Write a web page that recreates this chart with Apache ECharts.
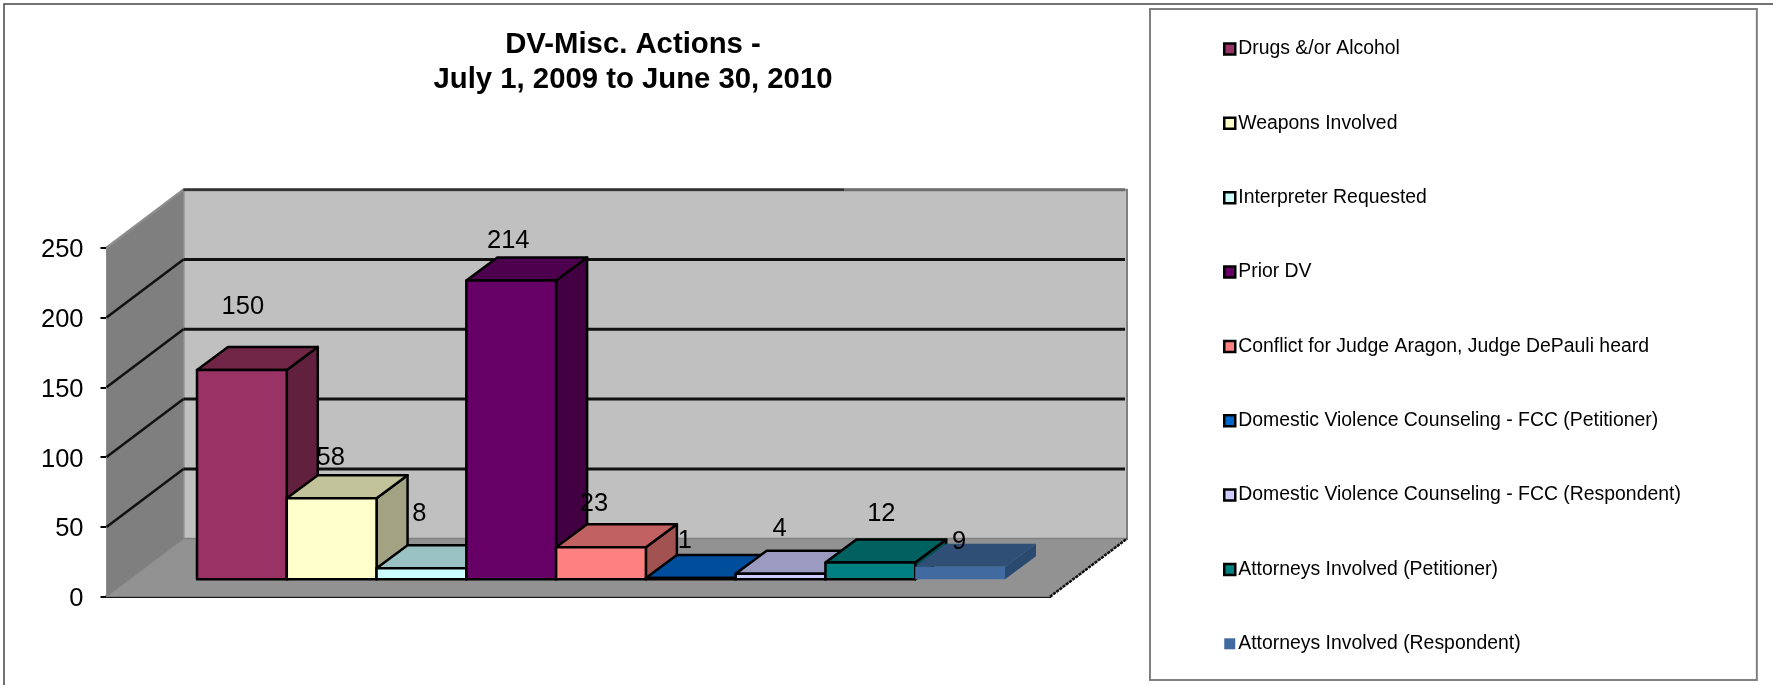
<!DOCTYPE html>
<html>
<head>
<meta charset="utf-8">
<title>DV-Misc. Actions</title>
<script src="https://cdn.jsdelivr.net/npm/echarts@6/dist/echarts.min.js"></script>
<style>
    html, body { margin: 0; padding: 0; background: #fff; }
    #chart { width: 1773px; height: 685px; }
</style>
</head>
<body>
<div id="chart"></div>
<script>
    // chart data
    var categories = [
        'Drugs &/or Alcohol',
        'Weapons Involved',
        'Interpreter Requested',
        'Prior DV',
        'Conflict for Judge Aragon, Judge DePauli heard',
        'Domestic Violence Counseling - FCC (Petitioner)',
        'Domestic Violence Counseling - FCC (Respondent)',
        'Attorneys Involved (Petitioner)',
        'Attorneys Involved (Respondent)'
    ];
    var values = [150, 58, 8, 214, 23, 1, 4, 12, 9];
    var yTicks = [0, 50, 100, 150, 200, 250];

    // face colours of each bar
    var frontColors = ['#993366', '#FFFFCC', '#CCFFFF', '#660066', '#FF8080', '#0066CC', '#CCCCFF', '#008080', '#416BA0'];
    var topColors = ['#722647', '#C2C29B', '#9BC2C2', '#4D004D', '#C26161', '#004D9B', '#9B9BC2', '#006161', '#2F4F76'];
    var sideColors = ['#62203F', '#A3A383', '#83A3A3', '#420042', '#A35252', '#004285', '#8383A3', '#005252', '#2A4A70'];

    // label nudge from the top of the front face, the picture does not centre them
    var labelShiftX = [1, -1, -2, -3, -7, -6, -1, 11, -1];
    var labelShiftY = [-63, -40, -54, -40, -43, -37, -45, -49, -25];

    var FONT = '"Liberation Sans", Arial, sans-serif';
    var WALL_DX = 77, WALL_DY = -58;   // depth of the box
    var BAR_DX = 31, BAR_DY = -23;     // depth of one bar

    function renderWalls(params, api) {
        var tick = api.value(0);
        var a = api.coord([0, tick]);
        var b = api.coord([1, tick]);
        var ax = a[0] + WALL_DX, ay = a[1] + WALL_DY;
        var bx = b[0] + WALL_DX;
        var children = [];
        if (params.dataIndex === 0) {
            var t = api.coord([0, yTicks[yTicks.length - 1]]);
            // back wall, side wall and floor
            children.push({
                type: 'rect',
                shape: {x: ax, y: t[1] + WALL_DY, width: bx - ax, height: ay - t[1] - WALL_DY},
                style: {fill: '#C0C0C0', stroke: '#808080', lineWidth: 2}
            });
            children.push({
                type: 'polygon',
                shape: {points: [[a[0], a[1]], [ax, ay], [ax, t[1] + WALL_DY], [t[0], t[1]]]},
                style: {fill: '#7F7F7F', stroke: '#8C8C8C', lineWidth: 1}
            });
            children.push({
                type: 'polygon',
                shape: {points: [[a[0], a[1]], [b[0], b[1]], [bx, ay], [ax, ay]]},
                style: {fill: '#929292', stroke: '#808080', lineWidth: 1}
            });
            // right edge of the floor
            children.push({
                type: 'line',
                shape: {x1: b[0], y1: b[1], x2: bx, y2: ay},
                style: {stroke: '#111', lineWidth: 2.5, lineDash: [3, 1]}
            });
        } else {
            var isTop = params.dataIndex === yTicks.length - 1;
            children.push({
                type: 'line',
                shape: {x1: a[0], y1: a[1], x2: ax, y2: ay},
                style: {stroke: isTop ? '#8C8C8C' : '#111', lineWidth: 2.5}
            });
            children.push({
                type: 'line',
                shape: {x1: ax, y1: ay, x2: bx - 2, y2: ay},
                style: {stroke: isTop ? '#6E6E6E' : '#111', lineWidth: 3}
            });
            if (isTop) {
                // top edge is only dark on the left part
                children.push({
                    type: 'line',
                    shape: {x1: ax, y1: ay, x2: ax + (bx - ax) * 0.7, y2: ay},
                    style: {stroke: '#333', lineWidth: 2.5}
                });
            }
        }
        return {type: 'group', children: children};
    }

    function makeBarRenderer(i) {
        return function (params, api) {
            var top = api.coord([api.value(0), api.value(1)]);
            var base = api.coord([api.value(0), 0]);
            var w = api.size([1, 0])[0];
            var l = top[0] - w / 2, r = top[0] + w / 2;
            var edge = i === values.length - 1 ? null : '#000';   // last bar has no outline
            var common = {stroke: edge, lineWidth: 2.5, lineJoin: 'round'};
            return {
                type: 'group',
                children: [
                    {
                        type: 'polygon',
                        shape: {points: [[r, top[1]], [r + BAR_DX, top[1] + BAR_DY], [r + BAR_DX, base[1] + BAR_DY], [r, base[1]]]},
                        style: Object.assign({fill: sideColors[i]}, common)
                    },
                    {
                        type: 'polygon',
                        shape: {points: [[l, top[1]], [l + BAR_DX, top[1] + BAR_DY], [r + BAR_DX, top[1] + BAR_DY], [r, top[1]]]},
                        style: Object.assign({fill: topColors[i]}, common)
                    },
                    {
                        type: 'rect',
                        shape: {x: l, y: top[1], width: w, height: base[1] - top[1]},
                        style: Object.assign({fill: frontColors[i]}, common)
                    },
                    {
                        type: 'text',
                        style: {
                            text: String(api.value(1)),
                            x: top[0] + labelShiftX[i],
                            y: top[1] + labelShiftY[i],
                            fill: '#000',
                            fontSize: 25.5,
                            fontFamily: FONT,
                            textAlign: 'center',
                            textVerticalAlign: 'middle'
                        }
                    }
                ]
            };
        };
    }

    var series = [{
        name: 'walls',
        type: 'custom',
        xAxisIndex: 0,
        yAxisIndex: 0,
        silent: true,
        clip: false,
        z: 1,
        data: yTicks.map(function (t) { return [t]; }),
        encode: {y: 0},
        renderItem: renderWalls
    }];

    categories.forEach(function (name, i) {
        series.push({
            name: name,
            type: 'custom',
            xAxisIndex: 1,
            yAxisIndex: 1,
            clip: false,
            z: 3,
            itemStyle: {color: frontColors[i]},
            data: [[i, values[i]]],
            encode: {x: 0, y: 1},
            renderItem: makeBarRenderer(i)
        });
    });

    var option = {
        animation: false,
        backgroundColor: '#fff',
        title: {
            text: 'DV-Misc. Actions -\nJuly 1, 2009 to June 30, 2010',
            left: 628,
            top: 22,
            textAlign: 'center',
            textStyle: {fontFamily: FONT, fontSize: 29.3, fontWeight: 'bold', color: '#000', lineHeight: 35}
        },
        legend: {
            orient: 'vertical',
            left: 1150,
            top: 9,
            padding: [29, 76, 25.2, 73],
            itemWidth: 11,
            itemHeight: 11,
            itemGap: 52.35,
            icon: 'rect',
            align: 'left',
            selectedMode: false,
            backgroundColor: '#fff',
            borderColor: '#808080',
            borderWidth: 2,
            textStyle: {fontFamily: FONT, fontSize: 19.4, color: '#000', lineHeight: 20, padding: [2, 0, 0, -2]},
            data: categories.map(function (name, i) {
                return {
                    name: name,
                    itemStyle: {
                        color: frontColors[i],
                        borderColor: i === categories.length - 1 ? frontColors[i] : '#000',
                        borderWidth: i === categories.length - 1 ? 0 : 2.5
                    }
                };
            })
        },
        grid: [
            {left: 106.5, top: 247.7, width: 943.5, height: 349},    // box and axis
            {left: 197, top: 230.3, width: 808, height: 349}         // bars stand further back on the floor
        ],
        xAxis: [
            {
                gridIndex: 0, type: 'value', min: 0, max: 1,
                axisLine: {show: true, lineStyle: {color: '#000', width: 3}},
                axisTick: {show: false},
                axisLabel: {show: false},
                splitLine: {show: false}
            },
            {
                gridIndex: 1, type: 'category', data: categories, show: false
            }
        ],
        yAxis: [
            {
                gridIndex: 0, type: 'value', min: 0, max: 250, interval: 50,
                axisLine: {show: true, lineStyle: {color: '#000', width: 2}},
                axisTick: {show: true, length: 6, lineStyle: {color: '#000', width: 2}},
                axisLabel: {fontFamily: FONT, fontSize: 25.5, color: '#000', margin: 23, verticalAlign: 'top', lineHeight: 5},
                splitLine: {show: false}
            },
            {
                gridIndex: 1, type: 'value', min: 0, max: 250, show: false, splitLine: {show: false}
            }
        ],
        // outer chart frame, only top and left edges are in view
        graphic: [{
            type: 'polyline',
            z: 0,
            silent: true,
            shape: {points: [[4, 685], [4, 4], [1773, 4]]},
            style: {fill: null, stroke: '#444', lineWidth: 1.5}
        }],
        series: series
    };

    var chart = echarts.init(document.getElementById('chart'));
    chart.setOption(option);
    window.onresize = function () {
        chart.resize();
    };
</script>
</body>
</html>
